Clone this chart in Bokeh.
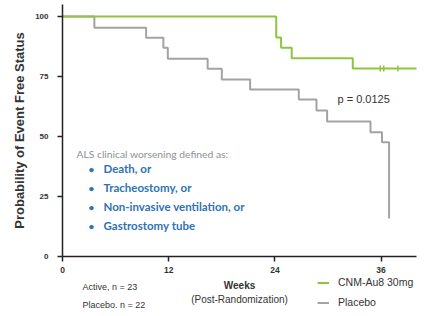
from bokeh.plotting import figure
from bokeh.models import Label, Legend, LegendItem, FixedTicker
from bokeh.embed import file_html
from bokeh.resources import INLINE
import math

# ---- data ----
active_weeks = [0, 24.15, 24.7, 25.9, 32.8, 40.0]
active_surv = [100, 91.3, 87.0, 82.6, 78.3, 78.3]
active_censor_weeks = [35.9, 36.3, 37.9]
active_censor_surv = [78.3, 78.3, 78.3]

placebo_weeks = [0, 3.6, 9.45, 11.4, 11.9, 16.4, 18.0, 21.2, 26.7, 28.7, 29.9, 34.8, 36.1, 36.9]
placebo_surv = [100, 95.3, 91.1, 87.0, 82.4, 78.2, 73.7, 69.6, 65.4, 60.8, 56.2, 51.8, 47.6, 15.8]
placebo_censor_weeks = []
placebo_censor_surv = []

x_ticks = [0, 12, 24, 36]
y_ticks = [0, 25, 50, 75, 100]

criteria = ["Death, or", "Tracheostomy, or", "Non-invasive ventilation, or", "Gastrostomy tube"]
series_names = ["CNM-Au8 30mg", "Placebo"]
group_counts = ["Active, n = 23", "Placebo, n = 22"]
p_value_text = "p =  0.0125"

GREEN = "#8cc63e"
GRAY = "#a3a3a3"
BLUE = "#2f72b3"
FONT = "Liberation Sans"

W, H = 420, 308
PXW = 8.85   # px per week
PXV = 2.4    # px per survival %
X0, Y0 = 62, 256  # pixel position of origin

p = figure(width=W, height=H,
           x_range=(-X0 / PXW, (W - X0) / PXW),
           y_range=(-(H - Y0) / PXV, Y0 / PXV),
           output_backend="svg", toolbar_location=None,
           min_border=0, min_border_left=0, min_border_right=0,
           min_border_top=0, min_border_bottom=0)
p.outline_line_color = None
p.xgrid.visible = False
p.ygrid.visible = False
p.background_fill_color = "white"
p.border_fill_color = "white"

# axes (fixed at the origin so the frame can hold the texts below)
p.xaxis.fixed_location = 0
p.yaxis.fixed_location = 0
p.xaxis.bounds = (0, 40)
p.yaxis.bounds = (0, 105)
for ax in (p.xaxis[0], p.yaxis[0]):
    ax.axis_line_color = "#222222"
    ax.axis_line_width = 1.5
    ax.major_tick_line_color = "#222222"
    ax.major_tick_line_width = 1.5
    ax.major_tick_out = 5
    ax.major_tick_in = 0
    ax.minor_tick_line_color = None
    ax.major_label_text_font = FONT
    ax.major_label_text_font_style = "bold"
    ax.major_label_text_color = "#333333"

p.xaxis.ticker = FixedTicker(ticks=x_ticks)
p.yaxis.ticker = FixedTicker(ticks=y_ticks)
p.xaxis.major_label_text_font_size = "8.5px"
p.yaxis.major_label_text_font_size = "8px"
p.xaxis.major_label_standoff = 5
p.yaxis.major_label_standoff = 9
p.yaxis.axis_label = "Probability of Event Free Status"
p.yaxis.axis_label_text_font = FONT
p.yaxis.axis_label_text_font_style = "bold"
p.yaxis.axis_label_text_font_size = "13px"
p.yaxis.axis_label_text_color = "#333333"
p.yaxis.axis_label_standoff = 5

# curves
r_pl = p.step(placebo_weeks, placebo_surv, mode="after", line_color=GRAY, line_width=2)
r_ac = p.step(active_weeks, active_surv, mode="after", line_color=GREEN, line_width=2)
c_ac = p.scatter(active_censor_weeks, active_censor_surv, marker="dash", angle=math.pi / 2,
                 size=6, line_color=GREEN, line_width=1.5)
c_pl = p.scatter(placebo_censor_weeks, placebo_censor_surv, marker="dash", angle=math.pi / 2,
                 size=6, line_color=GRAY, line_width=1.5)

legend = Legend(items=[LegendItem(label=series_names[0], renderers=[r_ac, c_ac]),
                       LegendItem(label=series_names[1], renderers=[r_pl, c_pl])],
                location=(317, 0), padding=0, margin=0, spacing=8,
                glyph_width=12, glyph_height=9, label_height=9, label_standoff=9,
                label_text_font=FONT, label_text_font_size="10.5px", label_text_color="#333333",
                border_line_alpha=0, background_fill_alpha=0)
p.add_layout(legend)


def wx(px):
    return (px - X0) / PXW


def vy(py):
    return (Y0 - py) / PXV


# annotation texts
p.add_layout(Label(x=wx(76), y=vy(153), text="ALS clinical worsening defined as:", text_font="Lato",
                   text_font_size="10.3px", text_color="#8c9196", text_baseline="middle"))
row_px = [168, 187, 206, 225]
for txt, ry in zip(criteria, row_px):
    p.add_layout(Label(x=wx(88), y=vy(ry), text="\u2022", text_font="Lato", text_font_size="10px",
                       text_color=BLUE, text_baseline="middle", text_font_style="bold"))
    p.add_layout(Label(x=wx(103), y=vy(ry), text=txt, text_font="Lato", text_font_size="11.5px",
                       text_color=BLUE, text_baseline="middle", text_font_style="bold"))

p.add_layout(Label(x=wx(337), y=vy(98), text=p_value_text, text_font=FONT, text_font_size="11px",
                   text_color="#333333", text_baseline="middle"))

p.add_layout(Label(x=wx(82), y=vy(286), text=group_counts[0], text_font=FONT, text_font_size="9px",
                   text_color="#333333", text_baseline="middle"))
p.add_layout(Label(x=wx(82), y=vy(304), text=group_counts[1], text_font=FONT, text_font_size="9px",
                   text_color="#333333", text_baseline="middle"))

p.add_layout(Label(x=wx(239), y=vy(285), text="Weeks", text_font=FONT, text_font_size="10px",
                   text_font_style="bold", text_color="#333333", text_baseline="middle",
                   text_align="center"))
p.add_layout(Label(x=wx(239), y=vy(299), text="(Post-Randomization)", text_font=FONT,
                   text_font_size="10px", text_color="#333333", text_baseline="middle",
                   text_align="center"))

open("out.html", "w").write(file_html(p, INLINE))
